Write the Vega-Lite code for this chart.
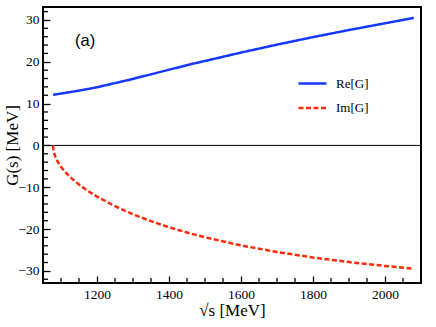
{
  "$schema": "https://vega.github.io/schema/vega-lite/v6.json",
  "width": 378,
  "height": 276,
  "autosize": {"type": "none"},
  "padding": {"left": 43, "top": 7, "right": 15, "bottom": 44},
  "background": "white",
  "config": {
    "view": {"stroke": "#000000", "strokeWidth": 2},
    "axis": {
      "labelFont": "Liberation Serif",
      "titleFont": "Liberation Serif",
      "labelFontSize": 13.5,
      "titleFontSize": 17,
      "titleFontWeight": "normal",
      "labelColor": "#000000",
      "titleColor": "#000000",
      "tickColor": "#000000",
      "domain": false,
      "grid": false,
      "zindex": 1
    },
    "legend": {
      "labelFont": "Liberation Serif",
      "labelFontSize": 13,
      "labelColor": "#000000"
    }
  },
  "encoding": {
    "x": {
      "field": "x", "type": "quantitative",
      "scale": {"domain": [1050, 2100], "nice": false, "zero": false},
      "axis": {
        "title": "√s [MeV]",
        "format": "d",
        "values": [1200, 1400, 1600, 1800, 2000],
        "tickSize": -7,
        "tickWidth": 1.3,
        "labelPadding": 11,
        "titlePadding": 2,
        "labelFlush": false,
        "labelOverlap": false
      }
    },
    "y": {
      "field": "y", "type": "quantitative",
      "scale": {"domain": [-32.9, 33.1], "nice": false, "zero": false},
      "axis": {
        "title": "G(s) [MeV]",
        "format": "d",
        "values": [-30, -20, -10, 0, 10, 20, 30],
        "tickSize": -7,
        "tickWidth": 1.3,
        "labelPadding": 11,
        "titlePadding": -4,
        "labelFlush": false,
        "labelOverlap": false
      }
    }
  },
  "layer": [
    {
      "data": {"values": [
        {"x": 1100, "y": -32.9}, {"x": 1150, "y": -32.9}, {"x": 1250, "y": -32.9}, {"x": 1300, "y": -32.9},
        {"x": 1350, "y": -32.9}, {"x": 1450, "y": -32.9}, {"x": 1500, "y": -32.9}, {"x": 1550, "y": -32.9},
        {"x": 1650, "y": -32.9}, {"x": 1700, "y": -32.9}, {"x": 1750, "y": -32.9}, {"x": 1850, "y": -32.9},
        {"x": 1900, "y": -32.9}, {"x": 1950, "y": -32.9}, {"x": 2050, "y": -32.9}
      ]},
      "mark": {"type": "tick", "orient": "vertical", "size": 10, "thickness": 1.3, "color": "#000000", "clip": true, "opacity": 1}
    },
    {
      "data": {"values": [
        {"x": 1050, "y": -32}, {"x": 1050, "y": -28}, {"x": 1050, "y": -26}, {"x": 1050, "y": -24}, {"x": 1050, "y": -22},
        {"x": 1050, "y": -18}, {"x": 1050, "y": -16}, {"x": 1050, "y": -14}, {"x": 1050, "y": -12},
        {"x": 1050, "y": -8}, {"x": 1050, "y": -6}, {"x": 1050, "y": -4}, {"x": 1050, "y": -2},
        {"x": 1050, "y": 2}, {"x": 1050, "y": 4}, {"x": 1050, "y": 6}, {"x": 1050, "y": 8},
        {"x": 1050, "y": 12}, {"x": 1050, "y": 14}, {"x": 1050, "y": 16}, {"x": 1050, "y": 18},
        {"x": 1050, "y": 22}, {"x": 1050, "y": 24}, {"x": 1050, "y": 26}, {"x": 1050, "y": 28}, {"x": 1050, "y": 32}
      ]},
      "mark": {"type": "tick", "orient": "horizontal", "size": 10, "thickness": 1.3, "color": "#000000", "clip": true, "opacity": 1}
    },
    {
      "data": {"values": [{"x": 1050, "y": 0}, {"x": 2100, "y": 0}]},
      "mark": {"type": "line", "color": "#000000", "strokeWidth": 1}
    },
    {
      "data": {
        "values": [
          {"x": 1078, "y": 12.1, "series": "Re[G]"},
          {"x": 1100, "y": 12.4, "series": "Re[G]"},
          {"x": 1150, "y": 13.1, "series": "Re[G]"},
          {"x": 1200, "y": 13.9, "series": "Re[G]"},
          {"x": 1250, "y": 14.9, "series": "Re[G]"},
          {"x": 1300, "y": 15.9, "series": "Re[G]"},
          {"x": 1350, "y": 17.0, "series": "Re[G]"},
          {"x": 1400, "y": 18.1, "series": "Re[G]"},
          {"x": 1450, "y": 19.2, "series": "Re[G]"},
          {"x": 1500, "y": 20.2, "series": "Re[G]"},
          {"x": 1600, "y": 22.2, "series": "Re[G]"},
          {"x": 1700, "y": 24.1, "series": "Re[G]"},
          {"x": 1800, "y": 25.9, "series": "Re[G]"},
          {"x": 1900, "y": 27.6, "series": "Re[G]"},
          {"x": 2000, "y": 29.2, "series": "Re[G]"},
          {"x": 2080, "y": 30.5, "series": "Re[G]"},
          {"x": 1077.84, "y": 0, "series": "Im[G]"},
          {"x": 1078, "y": -0.43, "series": "Im[G]"},
          {"x": 1080, "y": -1.59, "series": "Im[G]"},
          {"x": 1085, "y": -2.9, "series": "Im[G]"},
          {"x": 1090, "y": -3.78, "series": "Im[G]"},
          {"x": 1100, "y": -5.13, "series": "Im[G]"},
          {"x": 1110, "y": -6.2, "series": "Im[G]"},
          {"x": 1125, "y": -7.53, "series": "Im[G]"},
          {"x": 1150, "y": -9.37, "series": "Im[G]"},
          {"x": 1175, "y": -10.9, "series": "Im[G]"},
          {"x": 1200, "y": -12.25, "series": "Im[G]"},
          {"x": 1250, "y": -14.54, "series": "Im[G]"},
          {"x": 1300, "y": -16.47, "series": "Im[G]"},
          {"x": 1350, "y": -18.12, "series": "Im[G]"},
          {"x": 1400, "y": -19.57, "series": "Im[G]"},
          {"x": 1450, "y": -20.84, "series": "Im[G]"},
          {"x": 1500, "y": -21.98, "series": "Im[G]"},
          {"x": 1600, "y": -23.91, "series": "Im[G]"},
          {"x": 1700, "y": -25.49, "series": "Im[G]"},
          {"x": 1800, "y": -26.8, "series": "Im[G]"},
          {"x": 1900, "y": -27.9, "series": "Im[G]"},
          {"x": 2000, "y": -28.83, "series": "Im[G]"},
          {"x": 2080, "y": -29.48, "series": "Im[G]"}
        ]
      },
      "mark": {"type": "line", "strokeWidth": 2.5},
      "encoding": {
        "color": {
          "field": "series", "type": "nominal",
          "scale": {"domain": ["Re[G]", "Im[G]"], "range": ["#1438ff", "#ff2a0a"]},
          "legend": {
            "title": null,
            "orient": "none",
            "legendX": 254,
            "legendY": 61,
            "symbolType": "stroke",
            "symbolSize": 784,
            "symbolStrokeWidth": 2.5,
            "labelOffset": 8,
            "rowPadding": 1.5
          }
        },
        "strokeDash": {
          "field": "series", "type": "nominal",
          "scale": {"domain": ["Re[G]", "Im[G]"], "range": [[1, 0], [5, 2.5]]},
          "legend": null
        }
      }
    },
    {
      "data": {"values": [{"x": 1167, "y": 25, "label": "(a)"}]},
      "mark": {"type": "text", "font": "Liberation Sans", "fontSize": 16.5, "color": "#000000", "align": "center", "baseline": "middle"},
      "encoding": {
        "text": {"field": "label"}
      }
    }
  ]
}
